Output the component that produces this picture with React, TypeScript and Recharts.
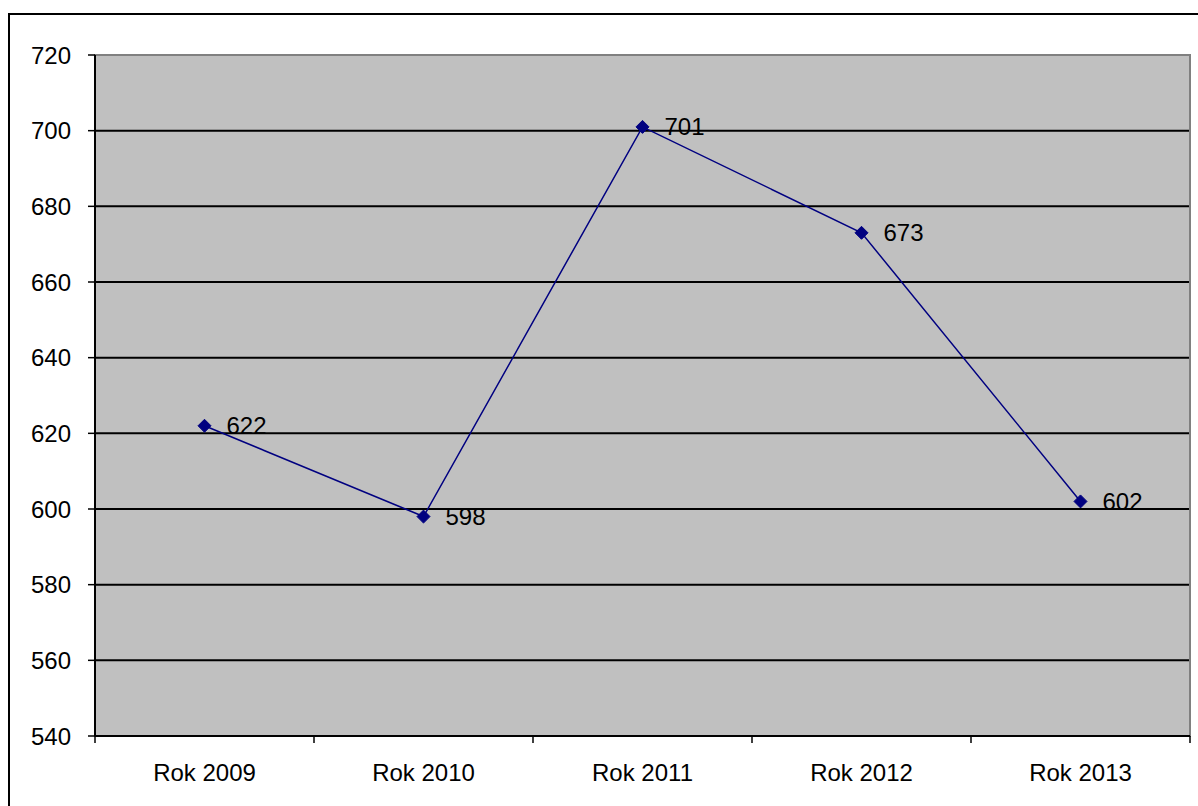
import {
  LineChart,
  Line,
  XAxis,
  YAxis,
  CartesianGrid,
  ReferenceArea,
  LabelList,
} from 'recharts';

const years = ['Rok 2009', 'Rok 2010', 'Rok 2011', 'Rok 2012', 'Rok 2013'];
const values = [622, 598, 701, 673, 602];
const yTicks = [540, 560, 580, 600, 620, 640, 660, 680, 700, 720];
// category boundaries, around index positions 0..4
const edgeTicks = [-0.5, 0.5, 1.5, 2.5, 3.5, 4.5];

const chartData = years.map((year, i) => ({ year, value: values[i] }));

const font = '"Liberation Sans", Arial, sans-serif';

function Diamond(props: any) {
  const { cx, cy } = props;
  if (cx == null || cy == null) return null;
  const r = 6.5;
  return (
    <polygon
      points={`${cx},${cy - r} ${cx + r},${cy} ${cx},${cy + r} ${cx - r},${cy}`}
      fill="#000080"
      stroke="#000080"
    />
  );
}

function App() {
  return (
    <div
      style={{
        position: 'fixed',
        left: 8,
        top: 13,
        width: 1190,
        height: 793,
        borderTop: '2px solid #000',
        borderLeft: '2px solid #000',
        boxSizing: 'border-box',
        background: '#fff',
        fontFamily: font,
      }}
    >
      <LineChart
        width={1188}
        height={791}
        data={chartData}
        margin={{ top: 40, right: 8, left: 0, bottom: 10 }}
      >
        <CartesianGrid
          xAxisId="a_edge"
          yAxisId="y"
          vertical={false}
          fill="#C0C0C0"
          fillOpacity={1}
          stroke="#000"
          strokeWidth={2}
        />
        <ReferenceArea
          yAxisId="y"
          xAxisId="a_edge"
          x1={-0.5}
          x2={4.5}
          y1={540}
          y2={720}
          fill="none"
          stroke="#808080"
          strokeWidth={2}
        />
        <XAxis
          xAxisId="a_edge"
          dataKey="edge"
          type="number"
          domain={[-0.5, 4.5]}
          allowDataOverflow
          ticks={edgeTicks}
          tick={() => <g />}
          tickSize={7}
          height={14}
          axisLine={{ stroke: '#000', strokeWidth: 2 }}
          tickLine={{ stroke: '#000', strokeWidth: 1.5 }}
        />
        <XAxis
          xAxisId="b_cat"
          dataKey="year"
          scale="band"
          height={46}
          axisLine={false}
          tickLine={false}
          tickSize={6}
          tickMargin={8}
          tick={{ fill: '#000', fontSize: 24, fontFamily: font }}
        />
        <YAxis
          yAxisId="y"
          domain={[540, 720]}
          ticks={yTicks}
          width={85}
          tickSize={7}
          tickMargin={17}
          axisLine={{ stroke: '#000', strokeWidth: 2 }}
          tickLine={{ stroke: '#000', strokeWidth: 1.5 }}
          tick={{ fill: '#000', fontSize: 24, fontFamily: font }}
        />
        <Line
          xAxisId="b_cat"
          yAxisId="y"
          type="linear"
          dataKey="value"
          stroke="#000080"
          strokeWidth={1.5}
          dot={<Diamond />}
          activeDot={false}
          isAnimationActive={false}
        >
          <LabelList
            dataKey="value"
            position="right"
            offset={22}
            fill="#000"
            fontSize={24}
            fontFamily={font}
          />
        </Line>
      </LineChart>
    </div>
  );
}

export default App;
